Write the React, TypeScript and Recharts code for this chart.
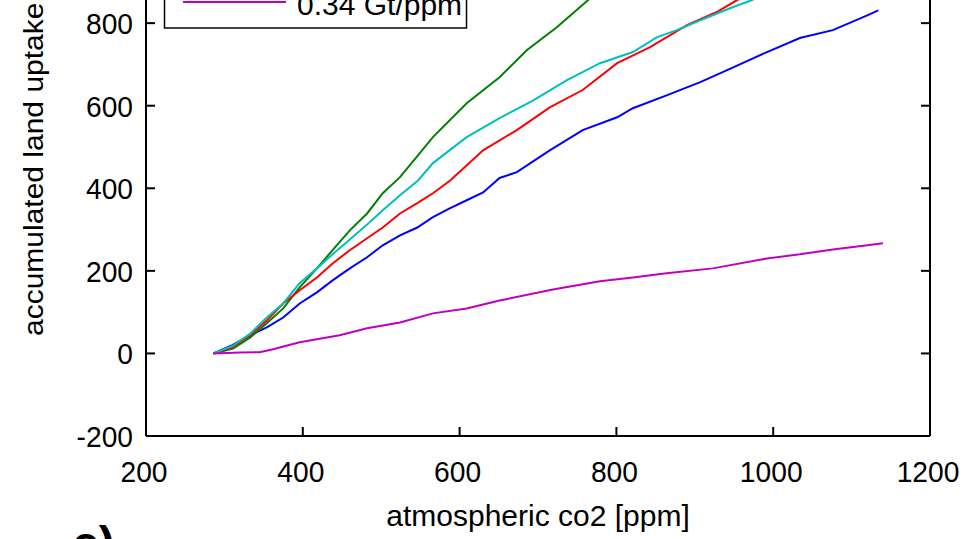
import React from 'react';
import { LineChart, Line, XAxis, YAxis } from 'recharts';

const FONT = '"Liberation Sans", Arial, Helvetica, sans-serif';

const xTicks = [200, 400, 600, 800, 1000, 1200];
const yTicks = [-200, 0, 200, 400, 600, 800, 1000, 1200];

const xLabel = 'atmospheric co2 [ppm]';
const yLabel = 'accumulated land uptake [Gt]';
const panelLabel = 'c)';
const legendText = '0.34 Gt/ppm';

const greenCo2 = [286, 311, 333, 354, 375, 396, 418, 438, 460, 482, 502, 524, 566, 609, 651, 686, 724, 764, 850, 950, 1050, 1140];
const greenUptake = [0, 12, 39, 73, 109, 160, 206, 250, 298, 339, 388, 427, 524, 606, 669, 735, 790, 856, 990, 1130, 1265, 1380];

const cyanCo2 = [286, 310, 333, 354, 375, 396, 418, 438, 460, 482, 502, 524, 547, 566, 609, 651, 694, 737, 779, 821, 852, 877, 907, 949, 973, 1050, 1140];
const cyanUptake = [0, 18, 48, 87, 121, 170, 206, 240, 276, 312, 347, 383, 419, 461, 524, 570, 613, 662, 703, 730, 766, 783, 807, 839, 856, 930, 1010];

const redCo2 = [286, 310, 333, 354, 375, 396, 418, 438, 460, 482, 502, 524, 546, 566, 588, 630, 673, 715, 757, 801, 843, 890, 928, 954, 1050, 1140];
const redUptake = [0, 15, 45, 80, 121, 153, 184, 218, 250, 279, 305, 339, 364, 388, 419, 492, 541, 596, 638, 703, 742, 795, 827, 856, 960, 1050];

const blueCo2 = [286, 310, 333, 354, 375, 396, 418, 438, 460, 482, 502, 524, 546, 566, 588, 609, 630, 651, 673, 715, 757, 801, 821, 864, 907, 949, 992, 1034, 1076, 1120, 1134];
const blueUptake = [0, 20, 44, 63, 87, 121, 148, 177, 206, 233, 262, 286, 305, 330, 352, 371, 390, 425, 439, 492, 541, 572, 594, 625, 657, 693, 730, 764, 783, 819, 831];

const magentaCo2 = [286, 320, 345, 362, 396, 447, 482, 524, 566, 609, 651, 719, 779, 821, 864, 923, 992, 1034, 1076, 1120, 1140];
const magentaUptake = [0, 2, 3, 10, 27, 44, 61, 75, 97, 109, 128, 155, 175, 184, 194, 206, 230, 240, 252, 262, 267];

const toPoints = (co2: number[], uptake: number[]) => co2.map((c, i) => ({ co2: c, uptake: uptake[i] }));

const series = [
  { key: 'blue', color: '#0000ff', data: toPoints(blueCo2, blueUptake) },
  { key: 'green', color: '#008000', data: toPoints(greenCo2, greenUptake) },
  { key: 'red', color: '#ff0000', data: toPoints(redCo2, redUptake) },
  { key: 'cyan', color: '#00bfbf', data: toPoints(cyanCo2, cyanUptake) },
  { key: 'magenta', color: '#bf00bf', data: toPoints(magentaCo2, magentaUptake) },
];

const OFF = 200;
const W = 968;
const H = 539 + OFF;

const LeftTick = (props: any) => {
  const { x, y, payload } = props;
  return (
    <g>
      <line x1={x} x2={x + 9} y1={y} y2={y} stroke="#000" strokeWidth={2} />
      <text transform={`translate(${x - 13},${y + 11}) scale(0.94,1)`} textAnchor="end" fontFamily={FONT} fontSize={30} fill="#000">
        {payload.value}
      </text>
    </g>
  );
};

const RightTick = (props: any) => {
  const { x, y } = props;
  return <line x1={x} x2={x - 9} y1={y} y2={y} stroke="#000" strokeWidth={2} />;
};

const BottomTick = (props: any) => {
  const { x, y, payload } = props;
  return (
    <g>
      <line x1={x} x2={x} y1={y} y2={y - 9} stroke="#000" strokeWidth={2} />
      <text transform={`translate(${x - 2},${y + 46}) scale(0.94,1)`} textAnchor="middle" fontFamily={FONT} fontSize={30} fill="#000">
        {payload.value}
      </text>
    </g>
  );
};

const XAxisLabel = (props: any) => {
  const vb = props.viewBox;
  return (
    <text x={vb.x + vb.width / 2} y={vb.y + 90} textAnchor="middle" fontFamily={FONT} fontSize={30} fill="#000">
      {props.value}
    </text>
  );
};

const YAxisLabel = (props: any) => {
  return (
    <text transform={`translate(43,${336 + OFF}) rotate(-90) scale(1,0.92)`} textAnchor="start" fontFamily={FONT} fontSize={30} fill="#000">
      {props.value}
    </text>
  );
};

export default function App() {
  return (
    <div style={{ position: 'absolute', left: 0, top: 0, width: W, height: 539, overflow: 'hidden', background: '#fff' }}>
      <div style={{ position: 'absolute', left: 0, top: -OFF }}>
        <LineChart width={W} height={H} margin={{ top: 58, right: 0, bottom: 0, left: 0 }}>
          <XAxis
            type="number"
            dataKey="co2"
            domain={[200, 1200]}
            ticks={xTicks}
            height={103}
            tickSize={0}
            tickMargin={0}
            tickLine={false}
            axisLine={{ stroke: '#000', strokeWidth: 2 }}
            tick={<BottomTick />}
            allowDuplicatedCategory={false}
            label={{ value: xLabel, content: <XAxisLabel /> }}
          />
          <YAxis
            type="number"
            domain={[-200, 1200]}
            ticks={yTicks}
            width={146}
            allowDataOverflow
            tickSize={0}
            tickMargin={0}
            tickLine={false}
            axisLine={{ stroke: '#000', strokeWidth: 2 }}
            tick={<LeftTick />}
            label={{ value: yLabel, content: <YAxisLabel /> }}
          />
          <YAxis
            yAxisId="r"
            orientation="right"
            type="number"
            domain={[-200, 1200]}
            ticks={yTicks}
            width={38}
            allowDataOverflow
            tickSize={0}
            tickMargin={0}
            tickLine={false}
            axisLine={{ stroke: '#000', strokeWidth: 2 }}
            tick={<RightTick />}
          />
          {series.map((s) => (
            <Line
              key={s.key}
              data={s.data}
              dataKey="uptake"
              type="linear"
              stroke={s.color}
              strokeWidth={2}
              dot={false}
              activeDot={false}
              isAnimationActive={false}
            />
          ))}
        </LineChart>
      </div>
      <svg width={W} height={539} style={{ position: 'absolute', left: 0, top: 0 }}>
        <rect x={164.5} y={-120} width={302} height={148} fill="#fff" stroke="#000" strokeWidth={1.5} />
        <line x1={183} x2={286} y1={2} y2={2} stroke="#bf00bf" strokeWidth={2} />
        <text x={297} y={15} fontFamily={FONT} fontSize={30} fill="#000">
          {legendText}
        </text>
        <text x={72} y={560} fontFamily={FONT} fontSize={48} fontWeight="bold" fill="#000">
          {panelLabel}
        </text>
      </svg>
    </div>
  );
}
